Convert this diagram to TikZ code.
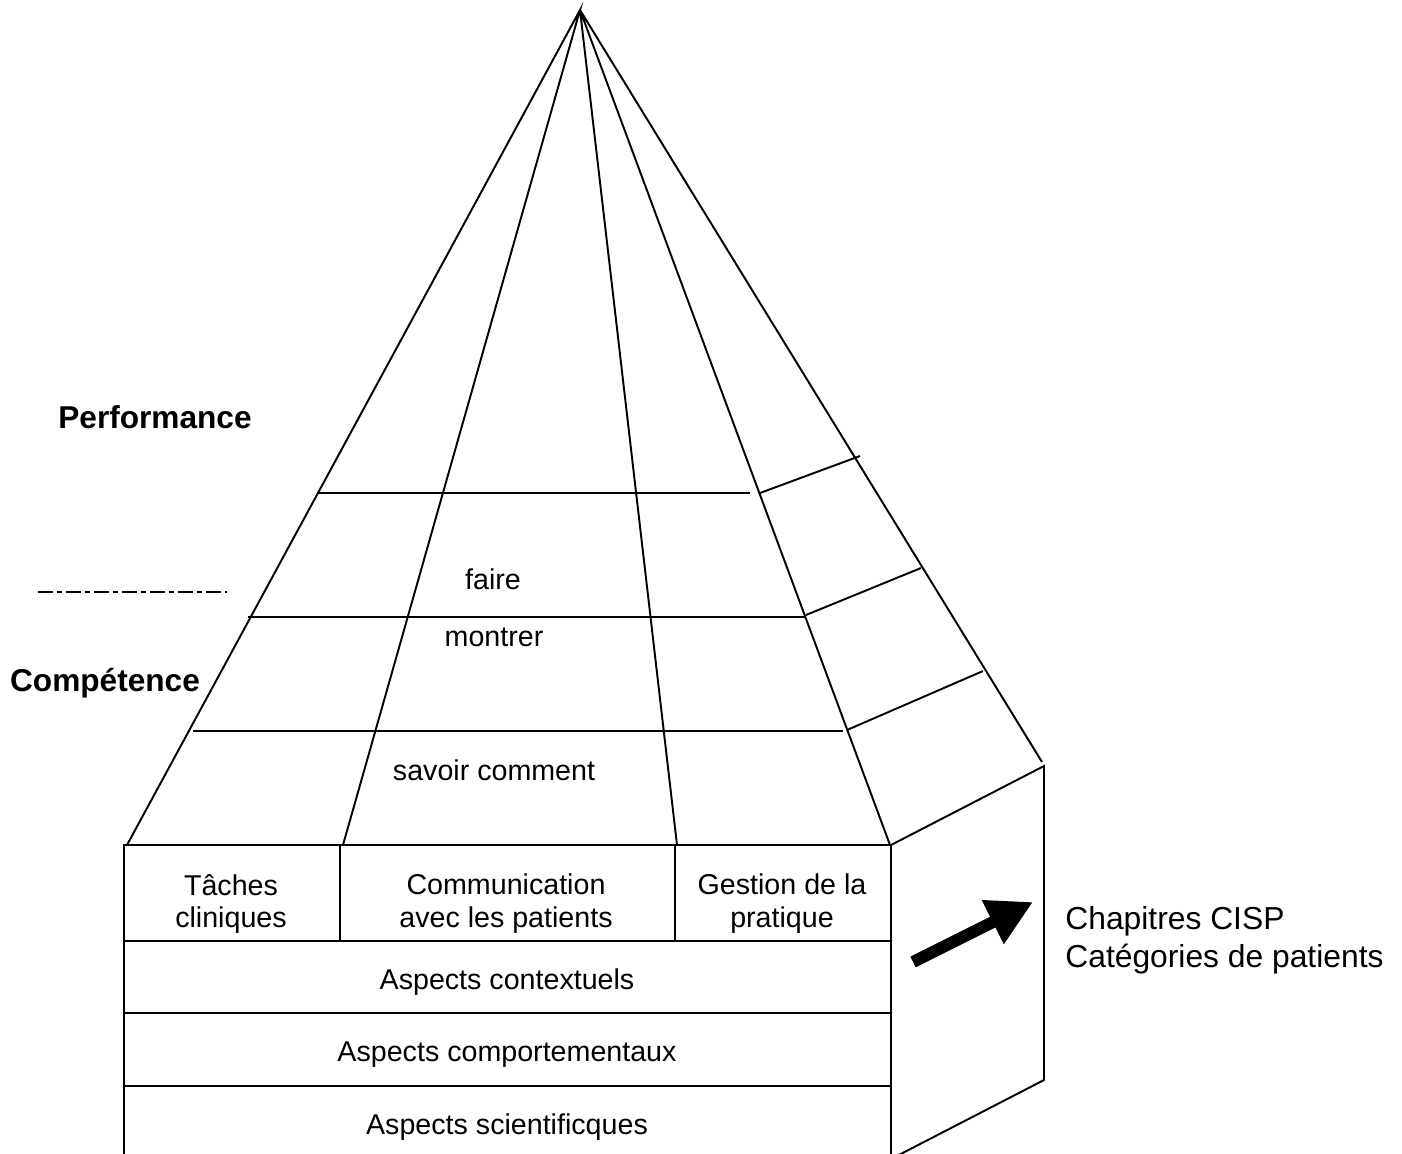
\documentclass[tikz,border=0pt]{standalone}
\usepackage{fontspec}
\setmainfont{Liberation Sans}
\usetikzlibrary{arrows.meta}

\tikzset{
  edge/.style={line width=1.1pt},
  frame/.style={line width=1.3pt},
  lbl/.style={font=\fontsize{16.3}{18.7}\selectfont, align=center, inner sep=0pt},
  side/.style={font=\fontsize{18.1}{21.5}\selectfont, align=left, inner sep=0pt},
  level/.style={font=\bfseries\fontsize{18}{21.5}\selectfont, inner sep=0pt}
}

\begin{document}
\begin{tikzpicture}[x=0.02cm,y=-0.02cm]
\clip (0,0) rectangle (1402,1153);
\coordinate (apex) at (580,10);
\coordinate (tip) at (1042,762);
\coordinate (back) at (1044,766);

% rays of the pyramid
\draw[edge] (127,845) -- (apex) -- (343,845) (apex) -- (677,845) (apex) -- (890,845) (apex) -- (tip);

% levels
\draw[edge] (317,493) -- (750,493) (248,617) -- (806,617) (193,731) -- (843,731);
\draw[edge] (760,493) -- (860,456) (806,615) -- (921,568) (847,730) -- (983,671);

% front block
\draw[frame] (124,1160) -- (124,845) -- (891,845) -- (891,1160);
\draw[frame] (124,941) -- (891,941) (124,1013) -- (891,1013) (124,1086) -- (891,1086);
\draw[edge] (340,845) -- (340,941) (675,845) -- (675,941);

% side face
\draw[edge] (891,845) -- (back) -- (1044,1080) -- (891,1159);
\draw[line width=0.24cm, -{Triangle[length=0.9cm,width=0.92cm]}] (913,962) -- (1033,902);

\draw[edge, dash pattern=on 0.3cm off 0.08cm on 0.1cm off 0.08cm] (38,592) -- (227,592);

\node[lbl] (taches) at (231,904) {Tâches\\cliniques};
\node[lbl] (comm) at (506,904) {Communication\\avec les patients};
\node[lbl] (gestion) at (782,904) {Gestion de la\\pratique};
\node[lbl] (context) at (507,982) {Aspects contextuels};
\node[lbl] (comport) at (507,1055) {Aspects comportementaux};
\node[lbl] (scient) at (507,1127) {Aspects scientificques};
\node[lbl] (faire) at (493,579) {faire};
\node[lbl] (montrer) at (494,637) {montrer};
\node[lbl] (savoir) at (494,770) {savoir comment};
\node[level] (perf) at (155,417) {Performance};
\node[level] (comp) at (105,683) {Compétence};
\node[side, anchor=west] (cisp) at (1065,940) {Chapitres CISP\\Catégories de patients};
\end{tikzpicture}
\end{document}
